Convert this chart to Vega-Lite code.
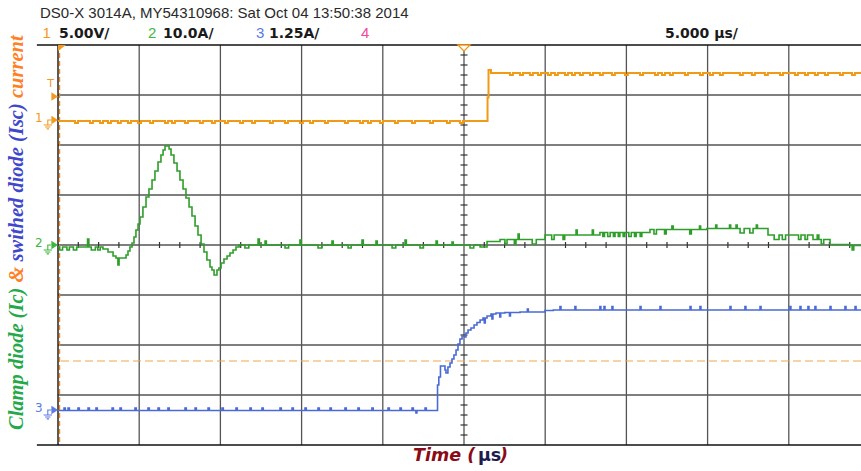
{
  "$schema": "https://vega.github.io/schema/vega-lite/v6.json",
  "width": 803,
  "height": 400,
  "autosize": {"type": "none"},
  "padding": {"left": 58, "top": 45, "right": 0, "bottom": 26},
  "background": "white",
  "config": {"view": {"stroke": null}},
  "datasets": {
    "ch1": [
      {"t": -25, "v": 2.48},
      {"t": -23.95, "v": 2.44}, {"t": -23.77, "v": 2.48},
      {"t": -23.03, "v": 2.44}, {"t": -22.85, "v": 2.48},
      {"t": -22.41, "v": 2.44}, {"t": -22.23, "v": 2.48},
      {"t": -21.92, "v": 2.44}, {"t": -21.74, "v": 2.48},
      {"t": -21.31, "v": 2.44}, {"t": -21.13, "v": 2.48},
      {"t": -20.69, "v": 2.44}, {"t": -20.51, "v": 2.48},
      {"t": -20.07, "v": 2.44}, {"t": -19.89, "v": 2.48},
      {"t": -19.33, "v": 2.44}, {"t": -19.15, "v": 2.48},
      {"t": -18.41, "v": 2.44}, {"t": -18.23, "v": 2.48},
      {"t": -17.98, "v": 2.44}, {"t": -17.8, "v": 2.48},
      {"t": -17.18, "v": 2.44}, {"t": -17.0, "v": 2.48},
      {"t": -16.26, "v": 2.44}, {"t": -16.08, "v": 2.48},
      {"t": -15.52, "v": 2.44}, {"t": -15.34, "v": 2.48},
      {"t": -14.72, "v": 2.44}, {"t": -14.54, "v": 2.48},
      {"t": -13.79, "v": 2.44}, {"t": -13.61, "v": 2.48},
      {"t": -13.05, "v": 2.44}, {"t": -12.87, "v": 2.48},
      {"t": -11.95, "v": 2.44}, {"t": -11.77, "v": 2.48},
      {"t": -11.02, "v": 2.44}, {"t": -10.84, "v": 2.48},
      {"t": -10.1, "v": 2.44}, {"t": -9.92, "v": 2.48},
      {"t": -9.48, "v": 2.44}, {"t": -9.3, "v": 2.48},
      {"t": -8.56, "v": 2.44}, {"t": -8.38, "v": 2.48},
      {"t": -7.33, "v": 2.44}, {"t": -7.15, "v": 2.48},
      {"t": -6.4, "v": 2.44}, {"t": -6.22, "v": 2.48},
      {"t": -5.91, "v": 2.44}, {"t": -5.73, "v": 2.48},
      {"t": -5.17, "v": 2.44}, {"t": -4.99, "v": 2.48},
      {"t": -4.25, "v": 2.44}, {"t": -4.07, "v": 2.48},
      {"t": -3.2, "v": 2.44}, {"t": -3.02, "v": 2.48},
      {"t": -2.09, "v": 2.44}, {"t": -1.91, "v": 2.48},
      {"t": -1.05, "v": 2.44}, {"t": -0.87, "v": 2.48},
      {"t": -0.25, "v": 2.44}, {"t": -0.07, "v": 2.48},
      {"t": 1.45, "v": 2.95}, {"t": 1.51, "v": 3.5}, {"t": 1.66, "v": 3.44},
      {"t": 2.83, "v": 3.4}, {"t": 3.01, "v": 3.44},
      {"t": 3.45, "v": 3.4}, {"t": 3.63, "v": 3.44},
      {"t": 4.06, "v": 3.4}, {"t": 4.24, "v": 3.44},
      {"t": 4.56, "v": 3.4}, {"t": 4.74, "v": 3.44},
      {"t": 5.17, "v": 3.4}, {"t": 5.35, "v": 3.44},
      {"t": 5.6, "v": 3.4}, {"t": 5.78, "v": 3.44},
      {"t": 6.22, "v": 3.4}, {"t": 6.4, "v": 3.44},
      {"t": 6.65, "v": 3.4}, {"t": 6.83, "v": 3.44},
      {"t": 7.14, "v": 3.4}, {"t": 7.32, "v": 3.44},
      {"t": 7.76, "v": 3.4}, {"t": 7.94, "v": 3.44},
      {"t": 8.37, "v": 3.4}, {"t": 8.55, "v": 3.44},
      {"t": 9.11, "v": 3.4}, {"t": 9.29, "v": 3.44},
      {"t": 9.91, "v": 3.4}, {"t": 10.09, "v": 3.44},
      {"t": 10.84, "v": 3.4}, {"t": 11.02, "v": 3.44},
      {"t": 11.76, "v": 3.4}, {"t": 11.94, "v": 3.44},
      {"t": 12.19, "v": 3.4}, {"t": 12.37, "v": 3.44},
      {"t": 12.68, "v": 3.4}, {"t": 12.86, "v": 3.44},
      {"t": 13.61, "v": 3.4}, {"t": 13.79, "v": 3.44},
      {"t": 14.53, "v": 3.4}, {"t": 14.71, "v": 3.44},
      {"t": 15.15, "v": 3.4}, {"t": 15.33, "v": 3.44},
      {"t": 15.76, "v": 3.4}, {"t": 15.94, "v": 3.44},
      {"t": 16.99, "v": 3.4}, {"t": 17.17, "v": 3.44},
      {"t": 17.73, "v": 3.4}, {"t": 17.91, "v": 3.44},
      {"t": 18.53, "v": 3.4}, {"t": 18.71, "v": 3.44},
      {"t": 19.46, "v": 3.4}, {"t": 19.64, "v": 3.44},
      {"t": 20.38, "v": 3.4}, {"t": 20.56, "v": 3.44},
      {"t": 21.0, "v": 3.4}, {"t": 21.18, "v": 3.44},
      {"t": 21.61, "v": 3.4}, {"t": 21.79, "v": 3.44},
      {"t": 22.23, "v": 3.4}, {"t": 22.41, "v": 3.44},
      {"t": 23.15, "v": 3.4}, {"t": 23.33, "v": 3.44},
      {"t": 23.89, "v": 3.4}, {"t": 24.07, "v": 3.44},
      {"t": 24.45, "v": 3.44}
    ],
    "ch2": [
      {"t": -25, "v": -0.04},
      {"t": -24.9, "v": -0.1}, {"t": -24.72, "v": -0.04},
      {"t": -24.45, "v": -0.1}, {"t": -24.3, "v": -0.04},
      {"t": -24.05, "v": -0.1}, {"t": -23.85, "v": -0.04},
      {"t": -23.18, "v": 0.12}, {"t": -23.1, "v": -0.04},
      {"t": -22.95, "v": -0.1}, {"t": -22.7, "v": -0.04},
      {"t": -22.55, "v": -0.1}, {"t": -22.4, "v": -0.04},
      {"t": -22.23, "v": -0.08},
      {"t": -21.92, "v": -0.14},
      {"t": -21.61, "v": -0.22},
      {"t": -21.43, "v": -0.26},
      {"t": -21.31, "v": -0.4},
      {"t": -21.24, "v": -0.26},
      {"t": -20.81, "v": -0.2},
      {"t": -20.69, "v": -0.12},
      {"t": -20.57, "v": -0.04},
      {"t": -20.44, "v": 0.04},
      {"t": -20.32, "v": 0.16},
      {"t": -20.2, "v": 0.3},
      {"t": -20.07, "v": 0.42},
      {"t": -19.95, "v": 0.56},
      {"t": -19.77, "v": 0.76},
      {"t": -19.58, "v": 0.96},
      {"t": -19.4, "v": 1.12},
      {"t": -19.21, "v": 1.3},
      {"t": -19.03, "v": 1.48},
      {"t": -18.84, "v": 1.66},
      {"t": -18.66, "v": 1.8},
      {"t": -18.53, "v": 1.9},
      {"t": -18.41, "v": 1.98},
      {"t": -18.16, "v": 1.92},
      {"t": -18.04, "v": 1.8},
      {"t": -17.86, "v": 1.64},
      {"t": -17.67, "v": 1.48},
      {"t": -17.49, "v": 1.3},
      {"t": -17.3, "v": 1.12},
      {"t": -17.12, "v": 0.94},
      {"t": -16.93, "v": 0.76},
      {"t": -16.75, "v": 0.58},
      {"t": -16.56, "v": 0.38},
      {"t": -16.38, "v": 0.2},
      {"t": -16.19, "v": 0.02},
      {"t": -16.01, "v": -0.14},
      {"t": -15.83, "v": -0.3},
      {"t": -15.64, "v": -0.44},
      {"t": -15.52, "v": -0.5},
      {"t": -15.39, "v": -0.6},
      {"t": -15.21, "v": -0.5},
      {"t": -15.09, "v": -0.46},
      {"t": -14.96, "v": -0.36},
      {"t": -14.78, "v": -0.28},
      {"t": -14.59, "v": -0.22},
      {"t": -14.41, "v": -0.16},
      {"t": -14.22, "v": -0.1},
      {"t": -14.04, "v": -0.04},
      {"t": -13.85, "v": 0.0},
      {"t": -13.49, "v": -0.06}, {"t": -13.25, "v": 0.0},
      {"t": -12.68, "v": 0.12}, {"t": -12.6, "v": 0.0},
      {"t": -12.25, "v": 0.08}, {"t": -12.17, "v": 0.0},
      {"t": -11.02, "v": -0.06}, {"t": -10.8, "v": 0.0},
      {"t": -10.1, "v": 0.1}, {"t": -10.02, "v": 0.0},
      {"t": -8.99, "v": -0.06}, {"t": -8.75, "v": 0.0},
      {"t": -8.13, "v": 0.08}, {"t": -8.05, "v": 0.0},
      {"t": -7.14, "v": -0.06}, {"t": -6.95, "v": 0.0},
      {"t": -6.28, "v": 0.1}, {"t": -6.2, "v": 0.0},
      {"t": -5.42, "v": 0.08}, {"t": -5.34, "v": 0.0},
      {"t": -4.43, "v": -0.06}, {"t": -4.2, "v": 0.0},
      {"t": -3.63, "v": 0.1}, {"t": -3.55, "v": 0.0},
      {"t": -2.71, "v": -0.06}, {"t": -2.5, "v": 0.0},
      {"t": -1.72, "v": 0.08}, {"t": -1.64, "v": 0.0},
      {"t": -0.74, "v": 0.06}, {"t": -0.66, "v": 0.0},
      {"t": 0.37, "v": -0.06}, {"t": 0.6, "v": 0.0},
      {"t": 0.99, "v": -0.04},
      {"t": 1.42, "v": 0.07},
      {"t": 2.22, "v": 0.11},
      {"t": 2.52, "v": 0.02}, {"t": 2.65, "v": 0.11},
      {"t": 3.1, "v": 0.02}, {"t": 3.2, "v": 0.11},
      {"t": 3.33, "v": 0.22}, {"t": 3.4, "v": 0.11},
      {"t": 4.2, "v": 0.02}, {"t": 4.45, "v": 0.11},
      {"t": 4.99, "v": 0.2},
      {"t": 5.4, "v": 0.11}, {"t": 5.55, "v": 0.2},
      {"t": 6.1, "v": 0.11}, {"t": 6.2, "v": 0.2},
      {"t": 6.9, "v": 0.3}, {"t": 6.97, "v": 0.2},
      {"t": 7.9, "v": 0.3}, {"t": 7.97, "v": 0.2},
      {"t": 8.37, "v": 0.25},
      {"t": 8.55, "v": 0.17}, {"t": 8.65, "v": 0.25},
      {"t": 8.85, "v": 0.17}, {"t": 9.0, "v": 0.25},
      {"t": 9.2, "v": 0.17}, {"t": 9.3, "v": 0.25},
      {"t": 9.5, "v": 0.17}, {"t": 9.6, "v": 0.25},
      {"t": 9.8, "v": 0.17}, {"t": 9.9, "v": 0.25},
      {"t": 10.15, "v": 0.17}, {"t": 10.3, "v": 0.25},
      {"t": 10.5, "v": 0.17}, {"t": 10.6, "v": 0.25},
      {"t": 10.85, "v": 0.17}, {"t": 10.95, "v": 0.25},
      {"t": 11.45, "v": 0.31},
      {"t": 11.7, "v": 0.22}, {"t": 11.85, "v": 0.31},
      {"t": 12.35, "v": 0.22}, {"t": 12.45, "v": 0.31},
      {"t": 12.8, "v": 0.38}, {"t": 12.88, "v": 0.31},
      {"t": 13.9, "v": 0.22}, {"t": 14.0, "v": 0.31},
      {"t": 14.5, "v": 0.38}, {"t": 14.57, "v": 0.31},
      {"t": 14.96, "v": 0.33},
      {"t": 15.5, "v": 0.4}, {"t": 15.57, "v": 0.33},
      {"t": 16.35, "v": 0.4}, {"t": 16.42, "v": 0.33},
      {"t": 16.75, "v": 0.4}, {"t": 16.82, "v": 0.33},
      {"t": 17.0, "v": 0.24}, {"t": 17.25, "v": 0.33},
      {"t": 17.6, "v": 0.24}, {"t": 17.8, "v": 0.33},
      {"t": 18.0, "v": 0.4}, {"t": 18.07, "v": 0.33},
      {"t": 18.72, "v": 0.2},
      {"t": 19.1, "v": 0.11}, {"t": 19.4, "v": 0.2},
      {"t": 19.6, "v": 0.11}, {"t": 19.8, "v": 0.2},
      {"t": 20.6, "v": 0.11}, {"t": 20.75, "v": 0.2},
      {"t": 21.0, "v": 0.11}, {"t": 21.15, "v": 0.2},
      {"t": 21.49, "v": 0.11},
      {"t": 21.75, "v": 0.2}, {"t": 21.85, "v": 0.11},
      {"t": 22.0, "v": 0.02}, {"t": 22.15, "v": 0.11},
      {"t": 22.54, "v": 0.01},
      {"t": 23.77, "v": -0.01},
      {"t": 23.9, "v": -0.1}, {"t": 24.0, "v": -0.01},
      {"t": 24.45, "v": -0.01}
    ],
    "ch3": [
      {"t": -25, "v": -3.31},
      {"t": -24.63, "v": -3.26}, {"t": -24.55, "v": -3.31},
      {"t": -24.38, "v": -3.26}, {"t": -24.3, "v": -3.31},
      {"t": -23.77, "v": -3.26}, {"t": -23.69, "v": -3.31},
      {"t": -23.15, "v": -3.26}, {"t": -23.07, "v": -3.31},
      {"t": -22.66, "v": -3.26}, {"t": -22.58, "v": -3.31},
      {"t": -21.67, "v": -3.26}, {"t": -21.59, "v": -3.31},
      {"t": -21.18, "v": -3.26}, {"t": -21.1, "v": -3.31},
      {"t": -20.26, "v": -3.26}, {"t": -20.18, "v": -3.31},
      {"t": -19.46, "v": -3.26}, {"t": -19.38, "v": -3.31},
      {"t": -18.84, "v": -3.26}, {"t": -18.76, "v": -3.31},
      {"t": -18.23, "v": -3.26}, {"t": -18.15, "v": -3.31},
      {"t": -17.18, "v": -3.26}, {"t": -17.1, "v": -3.31},
      {"t": -16.56, "v": -3.26}, {"t": -16.48, "v": -3.31},
      {"t": -15.76, "v": -3.26}, {"t": -15.68, "v": -3.31},
      {"t": -14.9, "v": -3.26}, {"t": -14.82, "v": -3.31},
      {"t": -14.04, "v": -3.26}, {"t": -13.96, "v": -3.31},
      {"t": -13.18, "v": -3.26}, {"t": -13.1, "v": -3.31},
      {"t": -12.44, "v": -3.26}, {"t": -12.36, "v": -3.31},
      {"t": -11.33, "v": -3.26}, {"t": -11.25, "v": -3.31},
      {"t": -10.59, "v": -3.26}, {"t": -10.51, "v": -3.31},
      {"t": -9.79, "v": -3.26}, {"t": -9.71, "v": -3.31},
      {"t": -8.99, "v": -3.26}, {"t": -8.91, "v": -3.31},
      {"t": -8.25, "v": -3.26}, {"t": -8.17, "v": -3.31},
      {"t": -7.33, "v": -3.26}, {"t": -7.25, "v": -3.31},
      {"t": -6.53, "v": -3.26}, {"t": -6.45, "v": -3.31},
      {"t": -5.67, "v": -3.26}, {"t": -5.59, "v": -3.31},
      {"t": -4.68, "v": -3.26}, {"t": -4.6, "v": -3.31},
      {"t": -3.94, "v": -3.26}, {"t": -3.86, "v": -3.31},
      {"t": -3.2, "v": -3.26}, {"t": -3.12, "v": -3.31},
      {"t": -2.96, "v": -3.36}, {"t": -2.9, "v": -3.31},
      {"t": -2.4, "v": -3.26}, {"t": -2.32, "v": -3.31},
      {"t": -1.63, "v": -2.8},
      {"t": -1.55, "v": -2.64},
      {"t": -1.45, "v": -2.42},
      {"t": -1.17, "v": -2.5},
      {"t": -1.11, "v": -2.56},
      {"t": -0.99, "v": -2.44},
      {"t": -0.86, "v": -2.36},
      {"t": -0.74, "v": -2.28},
      {"t": -0.62, "v": -2.2},
      {"t": -0.49, "v": -2.1},
      {"t": -0.37, "v": -1.98},
      {"t": -0.25, "v": -1.88},
      {"t": -0.12, "v": -1.82},
      {"t": 0.06, "v": -1.84},
      {"t": 0.12, "v": -1.76},
      {"t": 0.25, "v": -1.7},
      {"t": 0.43, "v": -1.66},
      {"t": 0.62, "v": -1.6},
      {"t": 0.8, "v": -1.55},
      {"t": 0.99, "v": -1.5},
      {"t": 1.17, "v": -1.46},
      {"t": 1.25, "v": -1.56}, {"t": 1.31, "v": -1.46},
      {"t": 1.42, "v": -1.42},
      {"t": 1.66, "v": -1.38},
      {"t": 1.72, "v": -1.48}, {"t": 1.78, "v": -1.38},
      {"t": 1.97, "v": -1.36},
      {"t": 2.2, "v": -1.44}, {"t": 2.26, "v": -1.36},
      {"t": 2.52, "v": -1.35},
      {"t": 2.8, "v": -1.42}, {"t": 2.86, "v": -1.35},
      {"t": 3.45, "v": -1.34},
      {"t": 3.9, "v": -1.28}, {"t": 3.96, "v": -1.34},
      {"t": 4.99, "v": -1.31},
      {"t": 5.5, "v": -1.3},
      {"t": 5.91, "v": -1.23}, {"t": 5.97, "v": -1.3},
      {"t": 6.83, "v": -1.23}, {"t": 6.89, "v": -1.3},
      {"t": 8.37, "v": -1.23}, {"t": 8.43, "v": -1.3},
      {"t": 8.62, "v": -1.23}, {"t": 8.68, "v": -1.3},
      {"t": 9.11, "v": -1.23}, {"t": 9.17, "v": -1.3},
      {"t": 10.84, "v": -1.23}, {"t": 10.9, "v": -1.3},
      {"t": 12.07, "v": -1.23}, {"t": 12.13, "v": -1.3},
      {"t": 13.92, "v": -1.23}, {"t": 13.98, "v": -1.3},
      {"t": 14.53, "v": -1.23}, {"t": 14.59, "v": -1.3},
      {"t": 16.38, "v": -1.23}, {"t": 16.44, "v": -1.3},
      {"t": 17.3, "v": -1.23}, {"t": 17.36, "v": -1.3},
      {"t": 18.23, "v": -1.23}, {"t": 18.29, "v": -1.3},
      {"t": 20.07, "v": -1.23}, {"t": 20.13, "v": -1.3},
      {"t": 20.69, "v": -1.23}, {"t": 20.75, "v": -1.3},
      {"t": 21.18, "v": -1.23}, {"t": 21.24, "v": -1.3},
      {"t": 21.61, "v": -1.23}, {"t": 21.67, "v": -1.3},
      {"t": 22.54, "v": -1.23}, {"t": 22.6, "v": -1.3},
      {"t": 23.46, "v": -1.23}, {"t": 23.52, "v": -1.3},
      {"t": 24.08, "v": -1.23}, {"t": 24.14, "v": -1.3},
      {"t": 24.45, "v": -1.3}
    ]
  },
  "layer": [
    {
      "data": {"values": [{"t": -20}, {"t": -15}, {"t": -10}, {"t": -5}, {"t": 0}, {"t": 5}, {"t": 10}, {"t": 15}, {"t": 20}]},
      "mark": {"type": "rule", "color": "#555555", "strokeWidth": 1.3},
      "encoding": {
        "x": {"field": "t", "type": "quantitative", "scale": {"domain": [-25, 24.446], "nice": false, "zero": false}, "axis": null}
      }
    },
    {
      "data": {"values": [{"v": -3}, {"v": -2}, {"v": -1}, {"v": 0}, {"v": 1}, {"v": 2}, {"v": 3}]},
      "mark": {"type": "rule", "color": "#555555", "strokeWidth": 1.3},
      "encoding": {
        "y": {"field": "v", "type": "quantitative", "scale": {"domain": [-4, 4], "nice": false, "zero": false}, "axis": null}
      }
    },
    {
      "data": {"values": [{"t": -23.75}, {"t": -22.5}, {"t": -21.25}, {"t": -18.75}, {"t": -17.5}, {"t": -16.25}, {"t": -13.75}, {"t": -12.5}, {"t": -11.25}, {"t": -8.75}, {"t": -7.5}, {"t": -6.25}, {"t": -3.75}, {"t": -2.5}, {"t": -1.25}, {"t": 1.25}, {"t": 2.5}, {"t": 3.75}, {"t": 6.25}, {"t": 7.5}, {"t": 8.75}, {"t": 11.25}, {"t": 12.5}, {"t": 13.75}, {"t": 16.25}, {"t": 17.5}, {"t": 18.75}, {"t": 21.25}, {"t": 22.5}, {"t": 23.75}]},
      "mark": {"type": "point", "shape": "M 0,-1 L 0,1", "size": 36, "filled": false, "opacity": 1, "color": "#333333", "strokeWidth": 1.2},
      "encoding": {
        "x": {"field": "t", "type": "quantitative", "scale": {"domain": [-25, 24.446], "nice": false, "zero": false}, "axis": null},
        "y": {"datum": 0, "type": "quantitative", "scale": {"domain": [-4, 4], "nice": false, "zero": false}, "axis": null}
      }
    },
    {
      "data": {"values": [{"v": -3.8}, {"v": -3.6}, {"v": -3.4}, {"v": -3.2}, {"v": -2.8}, {"v": -2.6}, {"v": -2.4}, {"v": -2.2}, {"v": -1.8}, {"v": -1.6}, {"v": -1.4}, {"v": -1.2}, {"v": -0.8}, {"v": -0.6}, {"v": -0.4}, {"v": -0.2}, {"v": 0.2}, {"v": 0.4}, {"v": 0.6}, {"v": 0.8}, {"v": 1.2}, {"v": 1.4}, {"v": 1.6}, {"v": 1.8}, {"v": 2.2}, {"v": 2.4}, {"v": 2.6}, {"v": 2.8}, {"v": 3.2}, {"v": 3.4}, {"v": 3.6}, {"v": 3.8}]},
      "mark": {"type": "point", "shape": "M -1,0 L 1,0", "size": 49, "filled": false, "opacity": 1, "color": "#333333", "strokeWidth": 1.2},
      "encoding": {
        "x": {"datum": 0, "type": "quantitative", "scale": {"domain": [-25, 24.446], "nice": false, "zero": false}, "axis": null},
        "y": {"field": "v", "type": "quantitative", "scale": {"domain": [-4, 4], "nice": false, "zero": false}, "axis": null}
      }
    },
    {
      "data": {"values": [{"v": -2.32}]},
      "mark": {"type": "rule", "color": "#F2A64A", "strokeWidth": 1.2, "strokeDash": [8, 4]},
      "encoding": {
        "y": {"field": "v", "type": "quantitative", "scale": {"domain": [-4, 4], "nice": false, "zero": false}, "axis": null}
      }
    },
    {
      "data": {"values": [{"t": -25}]},
      "mark": {"type": "rule", "color": "#222222", "strokeWidth": 1.5},
      "encoding": {
        "x": {"field": "t", "type": "quantitative", "scale": {"domain": [-25, 24.446], "nice": false, "zero": false}, "axis": null}
      }
    },
    {
      "data": {"values": [{"t": -24.9}]},
      "mark": {"type": "rule", "color": "#EE8A1A", "strokeWidth": 1.2, "strokeDash": [5, 3]},
      "encoding": {
        "x": {"field": "t", "type": "quantitative", "scale": {"domain": [-25, 24.446], "nice": false, "zero": false}, "axis": null}
      }
    },
    {
      "data": {"values": [{"v": 4}, {"v": -4}]},
      "mark": {"type": "rule", "color": "#111111", "strokeWidth": 1.6},
      "encoding": {
        "x": {"datum": -26.3, "type": "quantitative", "scale": {"domain": [-25, 24.446], "nice": false, "zero": false}, "axis": null},
        "x2": {"datum": 24.446},
        "y": {"field": "v", "type": "quantitative", "scale": {"domain": [-4, 4], "nice": false, "zero": false}, "axis": null}
      }
    },
    {
      "data": {"name": "ch2"},
      "mark": {"type": "line", "color": "#2E9E2A", "strokeWidth": 1.6, "interpolate": "step-after"},
      "encoding": {
        "x": {"field": "t", "type": "quantitative", "scale": {"domain": [-25, 24.446], "nice": false, "zero": false}, "axis": null},
        "y": {"field": "v", "type": "quantitative", "scale": {"domain": [-4, 4], "nice": false, "zero": false}, "axis": null}
      }
    },
    {
      "data": {"name": "ch3"},
      "mark": {"type": "line", "color": "#4A6AD6", "strokeWidth": 1.6, "interpolate": "step-after"},
      "encoding": {
        "x": {"field": "t", "type": "quantitative", "scale": {"domain": [-25, 24.446], "nice": false, "zero": false}, "axis": null},
        "y": {"field": "v", "type": "quantitative", "scale": {"domain": [-4, 4], "nice": false, "zero": false}, "axis": null}
      }
    },
    {
      "data": {"name": "ch1"},
      "mark": {"type": "line", "color": "#F09A16", "strokeWidth": 2, "interpolate": "step-after"},
      "encoding": {
        "x": {"field": "t", "type": "quantitative", "scale": {"domain": [-25, 24.446], "nice": false, "zero": false}, "axis": null},
        "y": {"field": "v", "type": "quantitative", "scale": {"domain": [-4, 4], "nice": false, "zero": false}, "axis": null}
      }
    },
    {
      "data": {"values": [{"ch": "1", "v": 2.5}, {"ch": "2", "v": 0}, {"ch": "3", "v": -3.3}, {"ch": "1", "v": 2.97}]},
      "mark": {"type": "point", "shape": "M -0.55,-0.35 L 0,0 L -0.55,0.35 Z", "size": 576, "filled": true, "opacity": 1},
      "encoding": {
        "x": {"datum": -25, "type": "quantitative", "scale": {"domain": [-25, 24.446], "nice": false, "zero": false}, "axis": null},
        "y": {"field": "v", "type": "quantitative", "scale": {"domain": [-4, 4], "nice": false, "zero": false}, "axis": null},
        "color": {"field": "ch", "type": "nominal", "scale": {"domain": ["1", "2", "3", "4"], "range": ["#F39A1E", "#3CB83C", "#5B7BE6", "#F0489B"]}, "legend": null}
      }
    },
    {
      "data": {"values": [{"ch": "1", "v": 2.5}, {"ch": "2", "v": 0}, {"ch": "3", "v": -3.3}]},
      "mark": {"type": "point", "shape": "M -0.55,0 L -0.85,0 L -0.85,0.42 M -1.2,0.42 L -0.5,0.42 M -1.07,0.58 L -0.63,0.58 M -0.95,0.74 L -0.75,0.74", "size": 576, "filled": false, "opacity": 1, "strokeWidth": 1.1},
      "encoding": {
        "x": {"datum": -25, "type": "quantitative", "scale": {"domain": [-25, 24.446], "nice": false, "zero": false}, "axis": null},
        "y": {"field": "v", "type": "quantitative", "scale": {"domain": [-4, 4], "nice": false, "zero": false}, "axis": null},
        "color": {"field": "ch", "type": "nominal", "scale": {"domain": ["1", "2", "3", "4"], "range": ["#F39A1E", "#3CB83C", "#5B7BE6", "#F0489B"]}, "legend": null}
      }
    },
    {
      "data": {"values": [{"ch": "1", "v": 2.5}, {"ch": "2", "v": 0}, {"ch": "3", "v": -3.3}]},
      "mark": {"type": "text", "font": "DejaVu Sans", "fontSize": 12, "align": "center", "baseline": "middle", "dy": -2},
      "encoding": {
        "x": {"datum": -26.18, "type": "quantitative", "scale": {"domain": [-25, 24.446], "nice": false, "zero": false}, "axis": null},
        "y": {"field": "v", "type": "quantitative", "scale": {"domain": [-4, 4], "nice": false, "zero": false}, "axis": null},
        "text": {"field": "ch"},
        "color": {"field": "ch", "type": "nominal", "scale": {"domain": ["1", "2", "3", "4"], "range": ["#F39A1E", "#3CB83C", "#5B7BE6", "#F0489B"]}, "legend": null}
      }
    },
    {
      "data": {"values": [{"label": "T", "t": -25.46, "v": 3.22}]},
      "mark": {"type": "text", "font": "DejaVu Sans", "fontSize": 11, "align": "center", "baseline": "middle", "color": "#F39A1E"},
      "encoding": {
        "x": {"field": "t", "type": "quantitative", "scale": {"domain": [-25, 24.446], "nice": false, "zero": false}, "axis": null},
        "y": {"field": "v", "type": "quantitative", "scale": {"domain": [-4, 4], "nice": false, "zero": false}, "axis": null},
        "text": {"field": "label"}
      }
    },
    {
      "data": {"values": [{"t": -25, "v": 4}]},
      "mark": {"type": "point", "shape": "M 0,0 L 0.8,0 L 0,0.6 Z", "size": 400, "filled": true, "opacity": 1, "color": "#F39A1E"},
      "encoding": {
        "x": {"field": "t", "type": "quantitative", "scale": {"domain": [-25, 24.446], "nice": false, "zero": false}, "axis": null},
        "y": {"field": "v", "type": "quantitative", "scale": {"domain": [-4, 4], "nice": false, "zero": false}, "axis": null}
      }
    },
    {
      "data": {"values": [{"t": 0, "v": 4}]},
      "mark": {"type": "point", "shape": "M -0.6,0 L 0,0.6 L 0.6,0 Z", "size": 400, "filled": false, "opacity": 1, "stroke": "#F39A1E", "fill": "white", "strokeWidth": 1.3},
      "encoding": {
        "x": {"field": "t", "type": "quantitative", "scale": {"domain": [-25, 24.446], "nice": false, "zero": false}, "axis": null},
        "y": {"field": "v", "type": "quantitative", "scale": {"domain": [-4, 4], "nice": false, "zero": false}, "axis": null}
      }
    },
    {
      "data": {"values": [{"label": "DS0-X 3014A, MY54310968: Sat Oct 04 13:50:38 2014", "t": -26.11, "v": 4.54}]},
      "mark": {"type": "text", "font": "Liberation Sans", "fontSize": 15, "align": "left", "baseline": "alphabetic", "color": "#2a2a2a"},
      "encoding": {
        "x": {"field": "t", "type": "quantitative", "scale": {"domain": [-25, 24.446], "nice": false, "zero": false}, "axis": null},
        "y": {"field": "v", "type": "quantitative", "scale": {"domain": [-4, 4], "nice": false, "zero": false}, "axis": null},
        "text": {"field": "label"}
      }
    },
    {
      "data": {"values": [{"ch": "1", "t": -25.95}, {"ch": "2", "t": -19.46}, {"ch": "3", "t": -12.81}, {"ch": "4", "t": -6.34}]},
      "mark": {"type": "text", "font": "Liberation Sans", "fontSize": 15, "align": "left", "baseline": "alphabetic"},
      "encoding": {
        "x": {"field": "t", "type": "quantitative", "scale": {"domain": [-25, 24.446], "nice": false, "zero": false}, "axis": null},
        "y": {"datum": 4.14, "type": "quantitative", "scale": {"domain": [-4, 4], "nice": false, "zero": false}, "axis": null},
        "text": {"field": "ch"},
        "color": {"field": "ch", "type": "nominal", "scale": {"domain": ["1", "2", "3", "4"], "range": ["#F39A1E", "#3CB83C", "#5B7BE6", "#F0489B"]}, "legend": null}
      }
    },
    {
      "data": {"values": [{"label": "5.00V/", "t": -24.94}, {"label": "10.0A/", "t": -18.53}, {"label": "1.25A/", "t": -12.01}, {"label": "5.000 µs/", "t": 12.38}]},
      "mark": {"type": "text", "font": "DejaVu Sans", "fontWeight": "bold", "fontSize": 14, "align": "left", "baseline": "alphabetic", "color": "#1a1a1a"},
      "encoding": {
        "x": {"field": "t", "type": "quantitative", "scale": {"domain": [-25, 24.446], "nice": false, "zero": false}, "axis": null},
        "y": {"datum": 4.14, "type": "quantitative", "scale": {"domain": [-4, 4], "nice": false, "zero": false}, "axis": null},
        "text": {"field": "label"}
      }
    },
    {
      "data": {"values": [{"label": "Clamp diode (Ic)", "v": -3.7}]},
      "mark": {"type": "text", "font": "Liberation Serif", "fontStyle": "italic", "fontWeight": "bold", "fontSize": 20.5, "angle": 270, "align": "left", "baseline": "middle", "color": "#25A84A"},
      "encoding": {
        "x": {"datum": -27.52, "type": "quantitative", "scale": {"domain": [-25, 24.446], "nice": false, "zero": false}, "axis": null},
        "y": {"field": "v", "type": "quantitative", "scale": {"domain": [-4, 4], "nice": false, "zero": false}, "axis": null},
        "text": {"field": "label"}
      }
    },
    {
      "data": {"values": [{"label": "&", "v": -0.75}, {"label": "current", "v": 2.94}]},
      "mark": {"type": "text", "font": "Liberation Serif", "fontStyle": "italic", "fontWeight": "bold", "fontSize": 20.5, "angle": 270, "align": "left", "baseline": "middle", "color": "#FF7F27"},
      "encoding": {
        "x": {"datum": -27.52, "type": "quantitative", "scale": {"domain": [-25, 24.446], "nice": false, "zero": false}, "axis": null},
        "y": {"field": "v", "type": "quantitative", "scale": {"domain": [-4, 4], "nice": false, "zero": false}, "axis": null},
        "text": {"field": "label"}
      }
    },
    {
      "data": {"values": [{"label": "swithed diode (Isc)", "v": -0.33}]},
      "mark": {"type": "text", "font": "Liberation Serif", "fontStyle": "italic", "fontWeight": "bold", "fontSize": 20.5, "angle": 270, "align": "left", "baseline": "middle", "color": "#3F48CC"},
      "encoding": {
        "x": {"datum": -27.52, "type": "quantitative", "scale": {"domain": [-25, 24.446], "nice": false, "zero": false}, "axis": null},
        "y": {"field": "v", "type": "quantitative", "scale": {"domain": [-4, 4], "nice": false, "zero": false}, "axis": null},
        "text": {"field": "label"}
      }
    },
    {
      "data": {"values": [{"label": "Time (", "t": -3.14}, {"label": ")", "t": 2.22}]},
      "mark": {"type": "text", "font": "DejaVu Sans", "fontStyle": "italic", "fontWeight": "bold", "fontSize": 17.5, "align": "left", "baseline": "alphabetic", "color": "#8B0A16"},
      "encoding": {
        "x": {"field": "t", "type": "quantitative", "scale": {"domain": [-25, 24.446], "nice": false, "zero": false}, "axis": null},
        "y": {"datum": -4.32, "type": "quantitative", "scale": {"domain": [-4, 4], "nice": false, "zero": false}, "axis": null},
        "text": {"field": "label"}
      }
    },
    {
      "data": {"values": [{"label": "µs", "t": 0.86}]},
      "mark": {"type": "text", "font": "DejaVu Sans", "fontWeight": "bold", "fontSize": 17.5, "align": "left", "baseline": "alphabetic", "color": "#1C1C4E"},
      "encoding": {
        "x": {"field": "t", "type": "quantitative", "scale": {"domain": [-25, 24.446], "nice": false, "zero": false}, "axis": null},
        "y": {"datum": -4.32, "type": "quantitative", "scale": {"domain": [-4, 4], "nice": false, "zero": false}, "axis": null},
        "text": {"field": "label"}
      }
    }
  ]
}
